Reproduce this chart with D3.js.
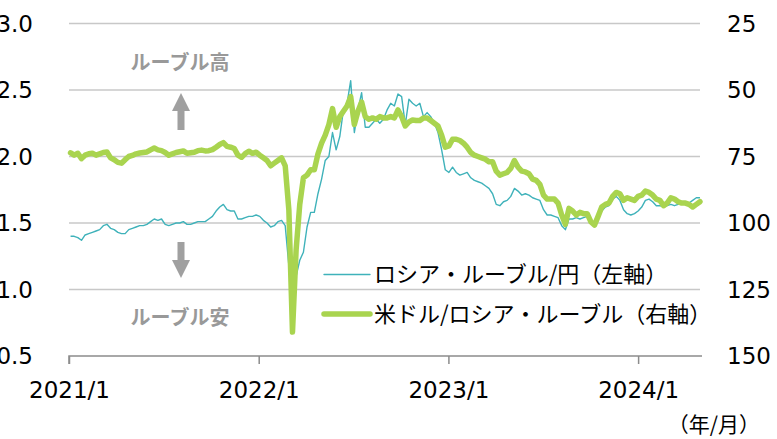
<!DOCTYPE html>
<html>
<head>
<meta charset="utf-8">
<script src="https://cdn.jsdelivr.net/npm/d3@7"></script>
<style>
	body { margin: 0; background: #fff; }
	svg { display: block; }
</style>
</head>
<body>
<script>
(function () {
	"use strict";

	var w = 777;
	var h = 439;

	// weekly values (Mondays)
	// JPY per RUB (left axis)
	var jpyRub2021 = [1.40, 1.40, 1.39, 1.37, 1.41, 1.42, 1.43, 1.44, 1.45, 1.48, 1.49, 1.46, 1.45,
		1.43, 1.42, 1.42, 1.45, 1.46, 1.47, 1.48, 1.48, 1.49, 1.51, 1.53, 1.52, 1.53,
		1.49, 1.48, 1.49, 1.50, 1.50, 1.51, 1.49, 1.49, 1.50, 1.51, 1.51, 1.51, 1.53,
		1.55, 1.59, 1.62, 1.64, 1.60, 1.59, 1.59, 1.53, 1.53, 1.54, 1.55, 1.55, 1.56];
	var jpyRub2022 = [1.55, 1.52, 1.50, 1.47, 1.48, 1.51, 1.52, 1.48, 1.18, 1.02, 1.10, 1.22, 1.28,
		1.47, 1.58, 1.58, 1.72, 1.83, 1.97, 2.00, 2.18, 2.05, 2.15, 2.35, 2.40, 2.57,
		2.18, 2.35, 2.48, 2.22, 2.22, 2.25, 2.28, 2.25, 2.28, 2.35, 2.40, 2.38, 2.47,
		2.45, 2.24, 2.43, 2.40, 2.38, 2.40, 2.30, 2.33, 2.30, 2.25, 2.18, 2.05, 1.90];
	var jpyRub2023 = [1.88, 1.92, 1.88, 1.86, 1.87, 1.88, 1.84, 1.82, 1.81, 1.80, 1.78, 1.76, 1.72,
		1.64, 1.63, 1.66, 1.67, 1.70, 1.76, 1.74, 1.71, 1.72, 1.71, 1.69, 1.68, 1.67,
		1.60, 1.56, 1.56, 1.55, 1.54, 1.48, 1.45, 1.53, 1.53, 1.54, 1.53, 1.54, 1.55,
		1.50, 1.49, 1.53, 1.59, 1.62, 1.63, 1.68, 1.70, 1.67, 1.60, 1.57, 1.56, 1.57];
	var jpyRub2024 = [1.59, 1.62, 1.67, 1.68, 1.66, 1.63, 1.63, 1.62, 1.63,
		1.64, 1.63, 1.64, 1.65, 1.65, 1.65, 1.67, 1.69, 1.69];

	// RUB per USD (right axis, inverted)
	var usdRub2021 = [73.6, 74.5, 73.8, 75.8, 74.5, 74.0, 73.8, 74.5, 74.0, 73.5, 73.3, 75.5, 76.2,
		77.2, 77.5, 76.2, 75.0, 74.6, 74.0, 73.7, 73.5, 73.3, 72.5, 71.8, 72.5, 72.8,
		73.5, 74.5, 74.0, 73.5, 73.2, 72.9, 73.8, 73.6, 73.4, 72.8, 72.6, 72.9, 72.8,
		72.4, 71.5, 70.5, 69.8, 71.2, 71.5, 72.0, 74.5, 75.3, 73.9, 73.0, 73.8, 73.4];
	var usdRub2022 = [74.5, 75.5, 76.5, 78.5, 77.5, 76.5, 75.5, 78.5, 95.0, 141.0, 110.0, 93.0, 83.0,
		82.0, 80.0, 80.0, 74.0, 70.0, 67.0, 63.0, 57.0, 64.0, 60.0, 58.0, 56.0, 52.5,
		63.0, 58.0, 54.5, 60.0, 61.0, 60.5, 61.0, 60.0, 60.5, 60.5, 60.0, 60.5, 57.5,
		60.0, 63.5, 62.0, 61.3, 61.5, 61.5, 60.5, 60.5, 61.5, 62.5, 63.5, 67.0, 71.5];
	var usdRub2023 = [71.0, 68.5, 68.5, 69.0, 70.0, 71.5, 73.5, 74.5, 75.0, 75.5, 76.0, 77.0, 77.0,
		80.5, 82.0, 81.5, 81.0, 79.5, 76.5, 79.0, 80.5, 80.8, 81.5, 83.5, 84.0, 85.5,
		89.5, 91.0, 91.0, 91.0, 92.5, 97.0, 100.5, 94.5, 95.5, 97.0, 96.0, 96.5, 96.5,
		99.5, 100.8, 97.5, 94.0, 93.0, 92.5, 90.0, 88.5, 89.0, 91.5, 90.5, 91.0, 91.5];
	var usdRub2024 = [90.0, 89.5, 88.0, 88.5, 89.5, 91.0, 91.5, 93.5, 92.5,
		90.5, 91.0, 92.0, 92.5, 92.5, 93.0, 94.0, 93.0, 92.0];

	var leftTicks = [0.5, 1.0, 1.5, 2.0, 2.5, 3.0];
	var rightTicks = [25, 50, 75, 100, 125, 150];
	var yearTicks = [new Date(2021, 0, 1), new Date(2022, 0, 1), new Date(2023, 0, 1), new Date(2024, 0, 1)];

	var jpyRub = jpyRub2021.concat(jpyRub2022, jpyRub2023, jpyRub2024);
	var usdRub = usdRub2021.concat(usdRub2022, usdRub2023, usdRub2024);
	var weeks = d3.timeMonday.range(new Date(2021, 0, 4), new Date(2024, 4, 1));

	var seriesJpy = weeks.map((d, i) => ({ date: d, v: jpyRub[i] }));
	var seriesUsd = weeks.map((d, i) => ({ date: d, v: usdRub[i] }));

	var left = 69, right = 701, top = 23.5, bottom = 356;

	var xScale = d3.scaleTime()
		.domain([new Date(2021, 0, 1), new Date(2024, 4, 1)])
		.range([left, right]);

	var yLeft = d3.scaleLinear().domain([0.5, 3.0]).range([bottom, top]);
	var yRight = d3.scaleLinear().domain([150, 25]).range([bottom, top]);

	var svg = d3.select("body")
		.append("svg")
		.attr("width", w)
		.attr("height", h);

	var numFont = "'DejaVu Sans', Verdana, sans-serif";
	var jpFont = "'Noto Sans CJK JP', sans-serif";

	// gridlines
	svg.append("g")
		.selectAll("line")
		.data(leftTicks.slice(1))
		.enter().append("line")
		.attr("x1", left).attr("x2", right - 1)
		.attr("y1", (d) => yLeft(d)).attr("y2", (d) => yLeft(d))
		.attr("stroke", "#c8c8c8")
		.attr("stroke-width", 1.5);

	// x axis
	var xAxis = d3.axisBottom(xScale)
		.tickValues(yearTicks)
		.tickSize(8)
		.tickFormat(d3.timeFormat("%Y/1"));

	var gx = svg.append("g")
		.attr("transform", "translate(0," + bottom + ")")
		.call(xAxis);
	gx.select(".domain").attr("stroke", "#8c8c8c").attr("stroke-width", 1.5)
		.attr("d", "M" + left + ",8V0H" + (right + 1));
	gx.selectAll(".tick line").attr("stroke", "#8c8c8c").attr("stroke-width", 1.5);
	gx.selectAll(".tick text")
		.attr("y", 34)
		.attr("dy", "0.35em")
		.attr("fill", "#000")
		.style("font-family", numFont)
		.style("font-size", "23px");

	// left axis labels
	svg.append("g")
		.selectAll("text")
		.data(leftTicks)
		.enter().append("text")
		.attr("x", 33)
		.attr("y", (d) => yLeft(d))
		.attr("dy", "0.36em")
		.attr("text-anchor", "end")
		.style("font-family", numFont)
		.style("font-size", "23px")
		.text((d) => d3.format(".1f")(d));

	// right axis labels
	svg.append("g")
		.selectAll("text")
		.data(rightTicks)
		.enter().append("text")
		.attr("x", 727)
		.attr("y", (d) => yRight(d))
		.attr("dy", "0.36em")
		.style("font-family", numFont)
		.style("font-size", "23px")
		.text((d) => d);

	// lines
	var lineJpy = d3.line()
		.x((d) => xScale(d.date))
		.y((d) => yLeft(d.v));
	var lineUsd = d3.line()
		.x((d) => xScale(d.date))
		.y((d) => yRight(d.v));

	svg.append("path")
		.attr("d", lineJpy(seriesJpy))
		.attr("fill", "none")
		.attr("stroke", "#3fb2ba")
		.attr("stroke-width", 1.4)
		.attr("stroke-linejoin", "round");

	svg.append("path")
		.attr("d", lineUsd(seriesUsd))
		.attr("fill", "none")
		.attr("stroke", "#a9d44f")
		.attr("stroke-width", 5.5)
		.attr("stroke-linejoin", "round")
		.attr("stroke-linecap", "round");

	// annotations
	var grey = "#a0a0a0";
	svg.append("text")
		.attr("x", 180).attr("y", 63).attr("dy", "0.35em")
		.attr("text-anchor", "middle")
		.attr("fill", "#999")
		.style("font-family", jpFont).style("font-size", "20px").style("font-weight", "bold")
		.text("ルーブル高");
	svg.append("text")
		.attr("x", 180).attr("y", 318).attr("dy", "0.35em")
		.attr("text-anchor", "middle")
		.attr("fill", "#999")
		.style("font-family", jpFont).style("font-size", "20px").style("font-weight", "bold")
		.text("ルーブル安");

	svg.append("path")
		.attr("d", "M177.5,130V111H172L181,93L190,111H184.5V130Z")
		.attr("fill", grey);
	svg.append("path")
		.attr("d", "M177.5,242V260H172L181,278L190,260H184.5V242Z")
		.attr("fill", grey);

	// legend
	var legend = [
		{ label: "ロシア・ルーブル/円（左軸）", color: "#3fb2ba", width: 1.4, y: 274.5 },
		{ label: "米ドル/ロシア・ルーブル（右軸）", color: "#a9d44f", width: 5.5, y: 314 }
	];
	var lg = svg.append("g")
		.selectAll("g")
		.data(legend)
		.enter().append("g");
	lg.append("line")
		.attr("x1", 324).attr("x2", 370)
		.attr("y1", (d) => d.y).attr("y2", (d) => d.y)
		.attr("stroke", (d) => d.color)
		.attr("stroke-width", (d) => d.width)
		.attr("stroke-linecap", "round");
	lg.append("text")
		.attr("x", 374)
		.attr("y", (d) => d.y)
		.attr("dy", "0.36em")
		.style("font-family", jpFont)
		.style("font-size", "22px")
		.text((d) => d.label);

	svg.append("text")
		.attr("x", 760).attr("y", 425).attr("dy", "0.35em")
		.attr("text-anchor", "end")
		.style("font-family", jpFont)
		.style("font-size", "21px")
		.text("（年/月）");
})();
</script>
</body>
</html>
